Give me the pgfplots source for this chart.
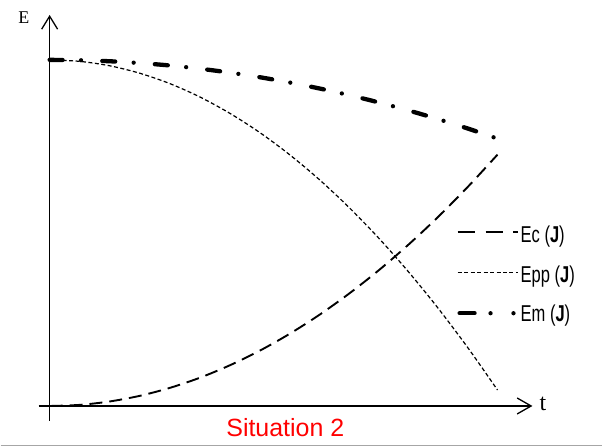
\documentclass[border=0pt]{standalone}
\usepackage{pgfplots}
\pgfplotsset{compat=1.18}
\usepackage{fontspec}
\setmainfont{Liberation Serif}
\newfontfamily\arialfont{Liberation Sans}
\newfontfamily\narrowfont[FakeStretch=0.72]{Liberation Sans}
\usetikzlibrary{arrows.meta}
\begin{document}
\begin{tikzpicture}
\begin{axis}[x=1pt, y=1pt, xmin=0, xmax=603, ymin=0, ymax=448,
  scale only axis, hide axis, clip=false]
\path (axis cs:0,0) rectangle (axis cs:603,448);
% frame line at bottom
\draw[line width=1.5pt, black!35] (axis cs:0,1.5) -- (axis cs:603,1.5);
% axes
\draw[line width=1.3pt, -{Straight Barb[length=13pt,width=16pt,line width=1.3pt]}] (axis cs:49,26) -- (axis cs:49,433);
\draw[line width=1.3pt, -{Straight Barb[length=14pt,width=16pt,line width=1.3pt]}] (axis cs:38,41) -- (axis cs:533,41);
\node[anchor=base west, inner sep=0pt, font=\fontsize{18}{22}\selectfont] at (axis cs:17.5,424.5) {E};
\node[anchor=base west, inner sep=0pt, font=\fontsize{24}{28}\selectfont] at (axis cs:540,36) {t};
% Ec
\addplot[black, line width=1.9pt, dash pattern=on 13pt off 7pt, smooth] coordinates {
(49,41) (79,42.1) (109,45.5) (139,51.1) (169,59.0) (199,69.1) (229,81.5) (259,96.1)
(289,113.0) (319,132.1) (349,153.5) (379,177.1) (409,203.0) (439,231.1) (469,261.5) (498,293.0)};
% Epp
\addplot[black, line width=1.2pt, dash pattern=on 4pt off 2.5pt, smooth] coordinates {
(49,388) (79,386.5) (109,382.1) (139,374.7) (169,364.4) (199,351.1) (229,334.8) (259,315.6)
(289,293.4) (319,268.3) (349,240.2) (379,209.2) (409,175.2) (439,138.3) (469,98.4) (498,57.0)};
% Em
\addplot[black, line width=4.3pt, line cap=round, dash pattern=on 13pt off 18.5pt on 0pt off 21.3pt, smooth] coordinates {
(49,388) (79,387.6) (109,386.6) (139,384.8) (169,382.4) (199,379.2) (229,375.3) (259,370.7)
(289,365.4) (319,359.4) (349,352.7) (379,345.3) (409,337.2) (439,328.4) (469,318.9) (498,309.0)};
% legend
\draw[black, line width=1.9pt, dash pattern=on 17pt off 11pt] (axis cs:458,215) -- (axis cs:519,215);
\draw[black, line width=1.2pt, dash pattern=on 4pt off 2.5pt] (axis cs:458,175) -- (axis cs:519,175);
\draw[black, line width=4.3pt, line cap=round, dash pattern=on 15pt off 16pt on 0pt off 23pt on 0pt off 100pt] (axis cs:460,134) -- (axis cs:518,134);
\node[anchor=base west, inner sep=0pt, font=\narrowfont\fontsize{23}{27}\selectfont] at (axis cs:521,205) {Ec (\textbf{J})};
\node[anchor=base west, inner sep=0pt, font=\narrowfont\fontsize{23}{27}\selectfont] at (axis cs:521,165) {Epp (\textbf{J})};
\node[anchor=base west, inner sep=0pt, font=\narrowfont\fontsize{23}{27}\selectfont] at (axis cs:521,126) {Em (\textbf{J})};
% title
\node[anchor=base west, inner sep=0pt, text=red, font=\arialfont\fontsize{25}{30}\selectfont] at (axis cs:226,10) {Situation 2};
\end{axis}
\end{tikzpicture}
\end{document}
